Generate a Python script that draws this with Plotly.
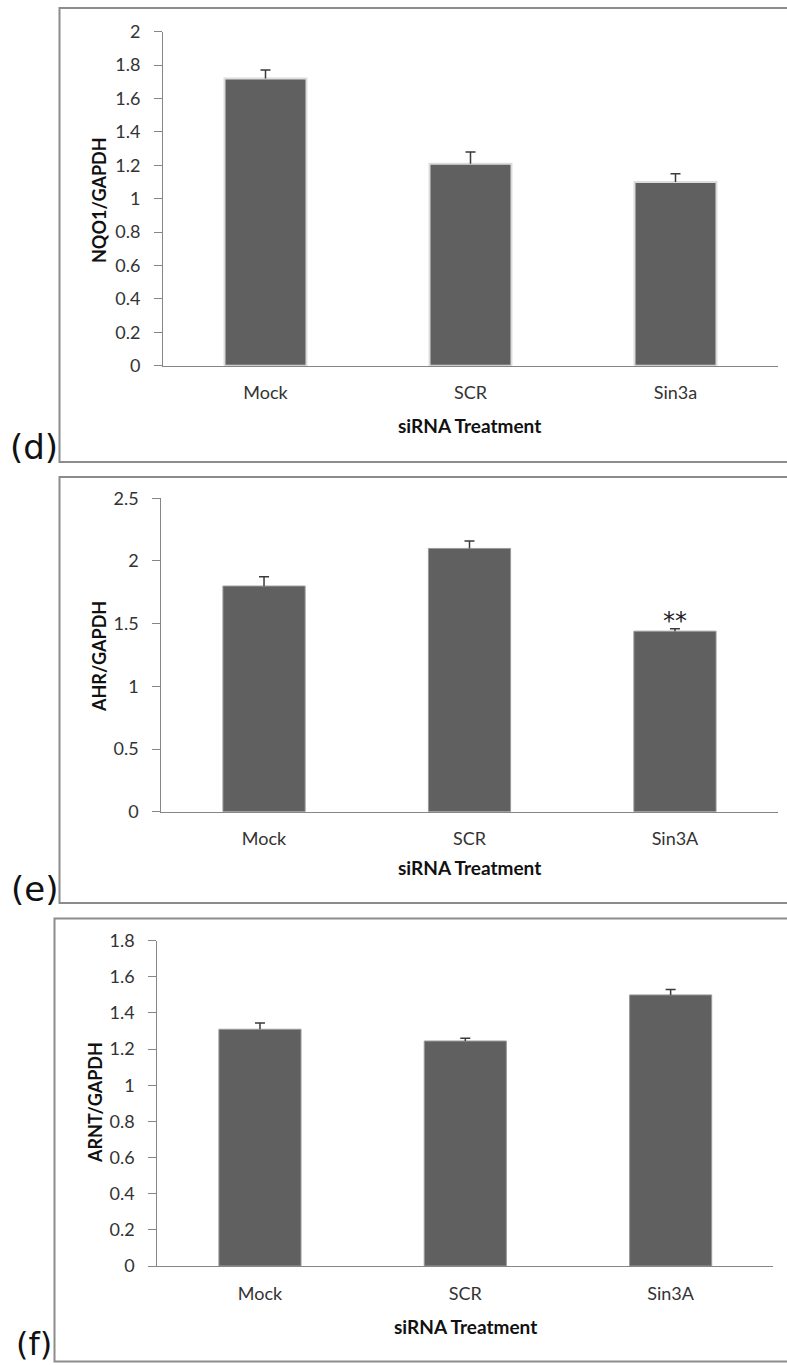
import plotly.graph_objects as go

W, H = 787, 1365

# ---- data ----
cats_d = ["Mock", "SCR", "Sin3a"]
nqo1 = [1.72, 1.21, 1.10]
nqo1_err = [0.05, 0.07, 0.05]

cats_e = ["Mock", "SCR", "Sin3A"]
ahr = [1.80, 2.10, 1.44]
ahr_err = [0.075, 0.06, 0.02]

cats_f = ["Mock", "SCR", "Sin3A"]
arnt = [1.31, 1.245, 1.50]
arnt_err = [0.035, 0.015, 0.03]

ytitles = ["NQO1/GAPDH", "AHR/GAPDH", "ARNT/GAPDH"]
xtitle = "siRNA Treatment"
panel_labels = ["(d)", "(e)", "(f)"]
yranges = [[0, 2], [0, 2.5], [0, 1.8]]
ydticks = [0.2, 0.5, 0.2]

BAR = "#606060"
AX = "#868686"
ERR = "#3a3a3a"
FONT = "Lato"


def px_x(x):
    return x / W


def px_y(y):
    return 1 - y / H


fig = go.Figure()

# plot areas in pixels: (x0, x1, ytop, ybottom)
areas = [
    (163.0, 778.0, 31.7, 365.7),
    (161.3, 777.7, 498.3, 811.7),
    (157.3, 773.3, 940.7, 1266.0),
]
series = [(cats_d, nqo1, nqo1_err), (cats_e, ahr, ahr_err), (cats_f, arnt, arnt_err)]
bar_lines = [("#dcdcdc", 2), ("#9a9a9a", 1), ("#9a9a9a", 1)]

for i, ((cats, vals, errs), (x0, x1, yt, yb)) in enumerate(zip(series, areas)):
    xa = "x" if i == 0 else f"x{i+1}"
    ya = "y" if i == 0 else f"y{i+1}"
    # bars with the error stem (no caps)
    fig.add_trace(go.Bar(
        x=cats, y=vals, xaxis=xa, yaxis=ya,
        marker=dict(color=BAR, line=dict(color=bar_lines[i][0], width=bar_lines[i][1])),
        error_y=dict(type="data", array=errs, arrayminus=[0] * len(errs), symmetric=False,
                     color=ERR, thickness=1.5, width=0),
        showlegend=False, hoverinfo="skip",
    ))
    # top caps of the error bars
    fig.add_trace(go.Scatter(
        x=cats, y=[v + e for v, e in zip(vals, errs)], xaxis=xa, yaxis=ya,
        mode="markers", marker=dict(size=1, opacity=0),
        error_y=dict(type="data", array=[0] * len(errs), color=ERR, thickness=1.5, width=5),
        showlegend=False, hoverinfo="skip",
    ))
    xkey = "xaxis" if i == 0 else f"xaxis{i+1}"
    ykey = "yaxis" if i == 0 else f"yaxis{i+1}"
    fig.update_layout(**{
        xkey: dict(domain=[px_x(x0), px_x(x1)], anchor=ya, showline=True, linecolor=AX,
                   linewidth=1, ticks="", showgrid=False, zeroline=False, automargin=False,
                   tickfont=dict(family=FONT, size=18, color="#333333"),
                   ticklabelstandoff=11, range=[-0.5, 2.5], fixedrange=True),
        ykey: dict(domain=[px_y(yb), px_y(yt)], anchor=xa, range=yranges[i],
                   dtick=ydticks[i], tick0=0, showline=True, linecolor=AX, linewidth=1,
                   ticks="outside", ticklen=8, tickcolor=AX, tickwidth=1,
                   showgrid=False, zeroline=False, automargin=False,
                   tickfont=dict(family=FONT, size=18, color="#333333"),
                   ticklabelstandoff=10, fixedrange=True),
    })

# borders of the panels (pixels)
borders = [(59.5, 8.0, 462.0), (59.5, 477.0, 903.0), (54.5, 918.5, 1361.5)]
for (bx, bt, bb) in borders:
    fig.add_shape(type="rect", xref="paper", yref="paper",
                  x0=px_x(bx), x1=1.01, y0=px_y(bb), y1=px_y(bt),
                  line=dict(color="#8c8c8c", width=2), fillcolor="rgba(0,0,0,0)")

# axis titles & panel labels (pixels: centre positions)
ytitle_pos = [(99, 200), (99, 657), (95, 1103)]
xtitle_pos = [(470, 425), (469, 867), (465, 1326)]
label_pos = [(34, 447), (34, 889), (34, 1344)]
label_size = [34, 34, 32]
for i in range(3):
    fig.add_annotation(text=f"<b>{ytitles[i]}</b>", xref="paper", yref="paper",
                       x=px_x(ytitle_pos[i][0]), y=px_y(ytitle_pos[i][1]),
                       textangle=-90, showarrow=False, xanchor="center", yanchor="middle",
                       font=dict(family=FONT, size=18, color="#111111"))
    fig.add_annotation(text=f"<b>{xtitle}</b>", xref="paper", yref="paper",
                       x=px_x(xtitle_pos[i][0]), y=px_y(xtitle_pos[i][1]),
                       showarrow=False, xanchor="center", yanchor="middle",
                       font=dict(family=FONT, size=19, color="#111111"))
    fig.add_annotation(text=panel_labels[i], xref="paper", yref="paper",
                       x=px_x(label_pos[i][0]), y=px_y(label_pos[i][1]),
                       showarrow=False, xanchor="center", yanchor="middle",
                       font=dict(family="DejaVu Sans", size=label_size[i], color="#111111"))

# significance marker
fig.add_annotation(text="**", xref="x2", yref="y2", x=cats_e[2], y=ahr[2] + ahr_err[2],
                   showarrow=False, yanchor="bottom", yshift=-8,
                   font=dict(family="DejaVu Sans", size=24, color="#222222"))

fig.update_layout(width=W, height=H, margin=dict(l=0, r=0, t=0, b=0, autoexpand=False),
                  paper_bgcolor="white", plot_bgcolor="white", bargap=0.6)

fig.write_html("out.html")
